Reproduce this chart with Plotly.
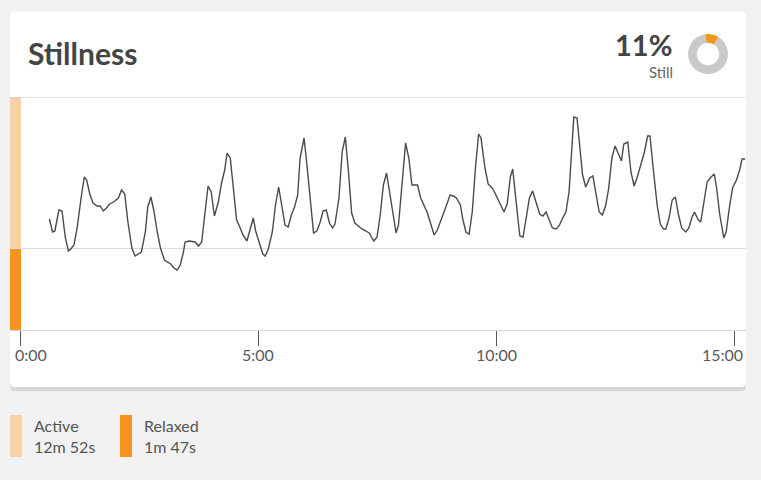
import plotly.graph_objects as go

W, H = 761, 480

# ---- data ----
time_s = [37, 41, 44, 49, 53, 57, 61, 64, 68, 72, 77, 81, 84, 88, 92, 97, 101, 105, 109, 113,
          118, 124, 128, 132, 136, 141, 145, 150, 153, 158, 161, 165, 169, 173, 177, 182, 186, 190,
          194, 198, 202, 206, 208, 213, 221, 225, 229, 233, 237, 241, 245, 250, 254, 258, 261, 265,
          269, 273, 277, 281, 286, 290, 294, 297, 302, 306, 309, 313, 318, 322, 326, 329, 334, 338,
          342, 346, 350, 353, 358, 361, 366, 370, 374, 378, 382, 386, 390, 394, 397, 402, 406, 410,
          414, 418, 422, 427, 431, 436, 440, 446, 450, 454, 458, 462, 466, 471, 474, 477, 482, 486,
          490, 494, 501, 505, 513, 518, 522, 526, 530, 534, 539, 542, 546, 550, 555, 558, 562, 566,
          570, 574, 578, 581, 586, 590, 595, 598, 603, 607, 610, 614, 618, 621, 624, 628, 630, 634,
          638, 642, 646, 650, 655, 659, 663, 667, 671, 676, 680, 684, 688, 692, 695, 698, 702, 706,
          709, 713, 718, 722, 726, 730, 734, 738, 742, 746, 750, 754, 758, 761, 766, 770, 774, 778,
          782, 787, 791, 794, 798, 803, 807, 811, 814, 818, 822, 826, 830, 834, 839, 843, 847, 850,
          855, 858, 862, 866, 871, 875, 878, 882, 887, 890, 894, 898, 903, 907, 910, 914]
stillness = [111, 98, 99, 120, 119, 93, 79, 81, 85, 102, 132, 153, 150, 136, 127, 124, 124, 119, 122, 126,
             128, 132, 140, 136, 108, 82, 74, 76, 78, 98, 123, 133, 118, 98, 82, 70, 68, 66,
             62, 60, 65, 78, 88, 89, 88, 84, 88, 115, 144, 138, 114, 128, 147, 160, 177, 172,
             138, 110, 103, 95, 89, 102, 112, 99, 85, 76, 74, 81, 98, 125, 143, 130, 105, 103,
             115, 123, 135, 172, 192, 170, 125, 97, 99, 107, 119, 120, 107, 102, 106, 132, 178, 193,
             158, 117, 107, 104, 101, 99, 97, 89, 93, 115, 145, 157, 138, 112, 97, 105, 152, 187,
             172, 145, 145, 132, 118, 105, 95, 100, 108, 118, 128, 135, 134, 132, 125, 111, 98, 96,
             118, 162, 196, 192, 162, 146, 142, 138, 130, 123, 118, 126, 153, 161, 135, 108, 94, 93,
             112, 132, 139, 128, 116, 114, 118, 110, 102, 101, 105, 112, 118, 138, 182, 213, 212, 182,
             155, 143, 152, 154, 135, 118, 115, 124, 142, 172, 184, 176, 169, 186, 188, 158, 144, 153,
             163, 178, 194, 194, 162, 125, 106, 101, 101, 112, 130, 133, 115, 102, 98, 102, 113, 118,
             110, 108, 128, 148, 153, 156, 142, 115, 92, 98, 122, 142, 150, 160, 171, 171]
threshold = 82
y_max = 233
x_range = [-12.6, 915]
tick_secs = [0, 300, 600, 900]
tick_labels = ["0:00", "5:00", "10:00", "15:00"]
still_pct = 11
legend_labels = ["Active", "Relaxed"]
legend_durations = ["12m 52s", "1m 47s"]

# ---- style ----
FONT = "Lato"
ORANGE = "#f7941d"
PEACH = "#f9d0a8"
TXT = "#444444"


def X(p):
    return p / W


def Y(p):
    return 1 - p / H


def rrect(x0, y0, x1, y1, r):
    return (f"M {X(x0+r)},{Y(y0)} L {X(x1-r)},{Y(y0)} Q {X(x1)},{Y(y0)} {X(x1)},{Y(y0+r)} "
            f"L {X(x1)},{Y(y1-r)} Q {X(x1)},{Y(y1)} {X(x1-r)},{Y(y1)} "
            f"L {X(x0+r)},{Y(y1)} Q {X(x0)},{Y(y1)} {X(x0)},{Y(y1-r)} "
            f"L {X(x0)},{Y(y0+r)} Q {X(x0)},{Y(y0)} {X(x0+r)},{Y(y0)} Z")


fig = go.Figure()

fig.add_trace(go.Scatter(x=time_s, y=stillness, mode="lines",
                         line=dict(color="#4a4a4a", width=1.4),
                         hoverinfo="skip", showlegend=False))

fig.add_trace(go.Pie(values=[still_pct, 100 - still_pct],
                     marker=dict(colors=[ORANGE, "#c9c9c9"], line=dict(width=0)),
                     hole=0.56, sort=False, direction="clockwise", rotation=-8,
                     textinfo="none", hoverinfo="skip", showlegend=False,
                     domain=dict(x=[X(688), X(728)], y=[Y(74), Y(34)])))

shapes = [
    dict(type="path", xref="paper", yref="paper", path=rrect(10, 14, 746, 391, 5),
         fillcolor="rgba(0,0,0,0.10)", line=dict(width=0), layer="below"),
    dict(type="path", xref="paper", yref="paper", path=rrect(10, 12, 746, 387, 5),
         fillcolor="white", line=dict(width=0), layer="below"),
    # left band
    dict(type="rect", xref="paper", yref="y", x0=X(10), x1=X(21), y0=threshold, y1=y_max,
         fillcolor=PEACH, line=dict(width=0), layer="between"),
    dict(type="rect", xref="paper", yref="y", x0=X(10), x1=X(21), y0=0, y1=threshold,
         fillcolor=ORANGE, line=dict(width=0), layer="between"),
    # header separator / top line
    dict(type="line", xref="paper", yref="y", x0=X(10), x1=X(746), y0=y_max, y1=y_max,
         line=dict(color="#cccccc", width=1), layer="above"),
    # legend swatches
    dict(type="rect", xref="paper", yref="paper", x0=X(10), x1=X(22), y0=Y(457), y1=Y(415),
         fillcolor=PEACH, line=dict(width=0)),
    dict(type="rect", xref="paper", yref="paper", x0=X(120), x1=X(132), y0=Y(457), y1=Y(415),
         fillcolor=ORANGE, line=dict(width=0)),
]

annotations = [
    dict(text="Stillness", xref="paper", yref="paper", x=X(26), y=Y(53), xanchor="left",
         yanchor="middle", showarrow=False,
         font=dict(family=FONT, size=30, color=TXT, weight=700)),
    dict(text=f"{still_pct}%", xref="paper", yref="paper", x=X(674), y=Y(44), xanchor="right",
         yanchor="middle", showarrow=False,
         font=dict(family=FONT, size=29, color=TXT, weight=700)),
    dict(text="Still", xref="paper", yref="paper", x=X(675), y=Y(72), xanchor="right",
         yanchor="middle", showarrow=False,
         font=dict(family=FONT, size=15, color="#666666")),
]

# tick labels
anchors = ["left", "center", "center", "right"]
shifts = [-7, 0, 0, 11]
for v, t, a, s in zip(tick_secs, tick_labels, anchors, shifts):
    annotations.append(dict(text=t, xref="x", yref="paper", x=v, y=Y(354), xanchor=a,
                            yanchor="middle", xshift=s, showarrow=False,
                            font=dict(family=FONT, size=16, color="#5a5a5a")))

# legend texts
for lx, lab, dur in zip([32, 142], legend_labels, legend_durations):
    annotations.append(dict(text=lab, xref="paper", yref="paper", x=X(lx), y=Y(425),
                            xanchor="left", yanchor="middle", showarrow=False,
                            font=dict(family=FONT, size=16, color="#555555")))
    annotations.append(dict(text=dur, xref="paper", yref="paper", x=X(lx), y=Y(446),
                            xanchor="left", yanchor="middle", showarrow=False,
                            font=dict(family=FONT, size=16, color="#555555")))

fig.update_layout(
    width=W, height=H,
    margin=dict(l=0, r=0, t=0, b=0),
    paper_bgcolor="#f1f1f1",
    plot_bgcolor="rgba(0,0,0,0)",
    shapes=shapes,
    annotations=annotations,
    xaxis=dict(domain=[X(10), X(746)], range=x_range, tickvals=tick_secs,
               showticklabels=False, ticks="outside", ticklen=15, tickcolor="#555555",
               tickwidth=1, showline=True, linecolor="#d6d3e3", linewidth=1,
               showgrid=False, zeroline=False, fixedrange=True),
    yaxis=dict(domain=[Y(330), Y(97)], range=[0, y_max], tickvals=[threshold],
               showticklabels=False, showgrid=True, gridcolor="#dddbe6", gridwidth=1,
               zeroline=False, showline=False, ticks="", fixedrange=True),
)

fig.write_html("out.html", config={"displayModeBar": False},
               post_script="document.body.style.margin='0';document.body.style.background='#f1f1f1';")
